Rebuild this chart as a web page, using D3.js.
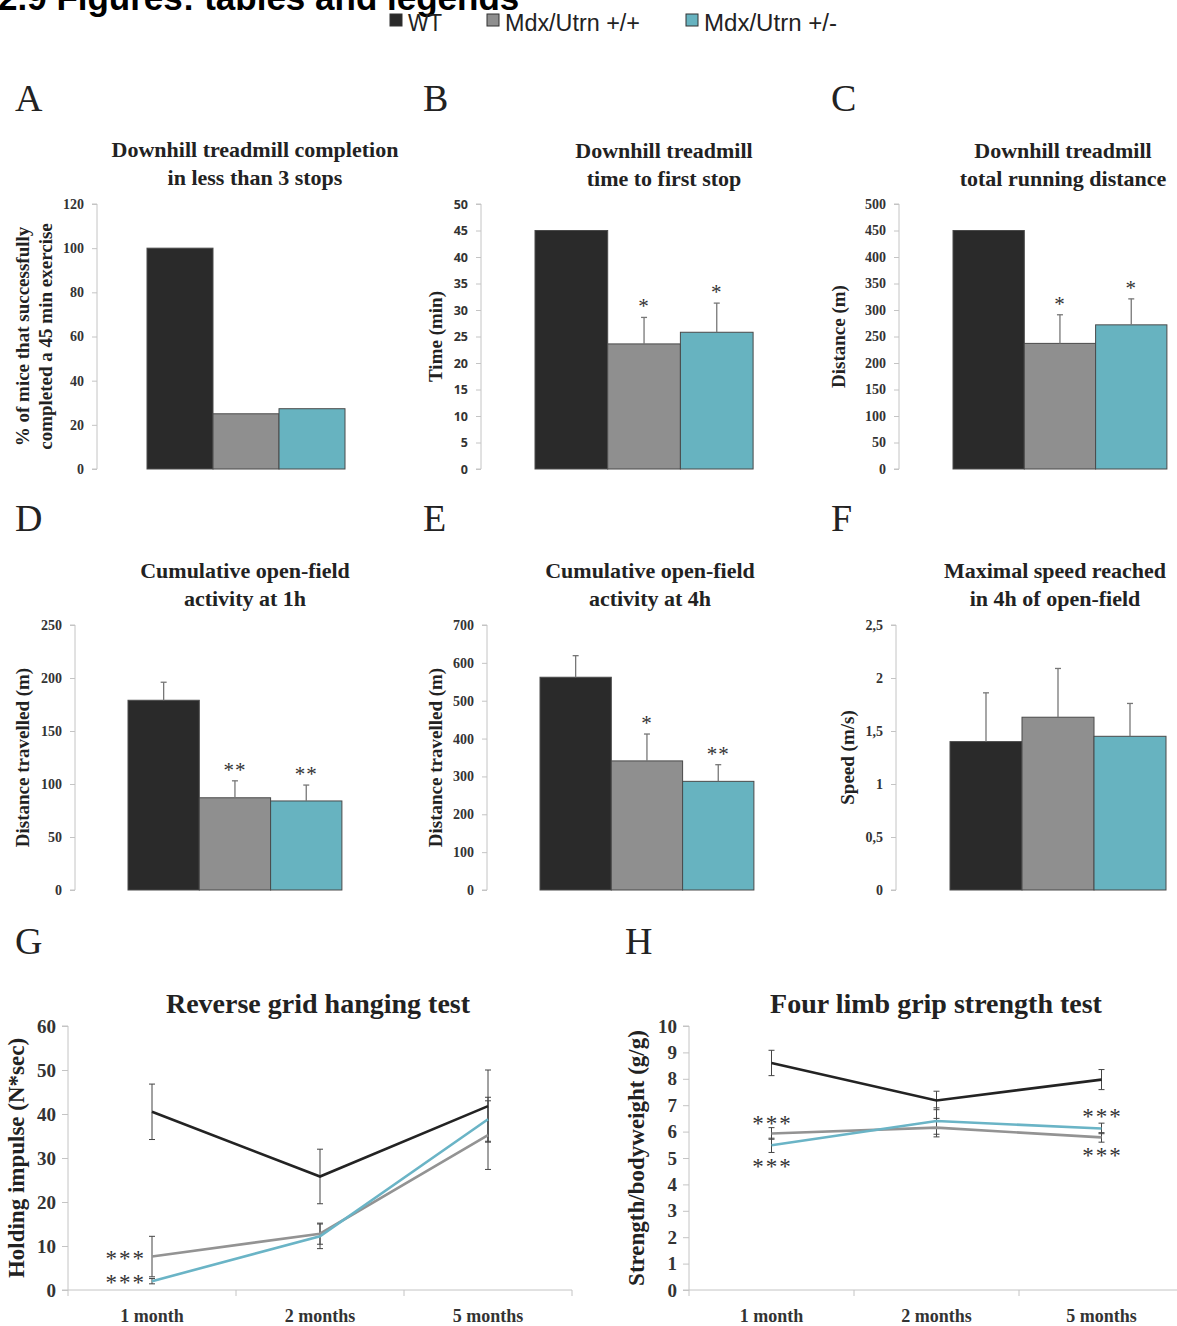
<!DOCTYPE html>
<html><head><meta charset="utf-8">
<script src="https://cdn.jsdelivr.net/npm/d3@7"></script>
<style>
body{margin:0;background:#fff;}
svg{display:block;}
</style></head>
<body>
<script>
// ---------- DATA ----------
const groups = ["WT", "Mdx/Utrn +/+", "Mdx/Utrn +/-"];
const groupColors = ["#2a2a2a", "#8f8f8f", "#67b3c0"];

const completionPct = [100, 25, 27.3];
const completionErr = [0, 0, 0];
const completionSig = ["", "", ""];

const timeToStop = [45, 23.6, 25.8];
const timeToStopErr = [0, 5.0, 5.5];
const timeToStopSig = ["", "*", "*"];

const runDistance = [450, 237, 272];
const runDistanceErr = [0, 54, 49];
const runDistanceSig = ["", "*", "*"];

const activity1h = [179, 87, 84];
const activity1hErr = [17, 16, 15];
const activity1hSig = ["", "**", "**"];

const activity4h = [562, 341, 287];
const activity4hErr = [57, 71, 44];
const activity4hSig = ["", "*", "**"];

const maxSpeed = [1.40, 1.63, 1.45];
const maxSpeedErr = [0.46, 0.46, 0.31];
const maxSpeedSig = ["", "", ""];

const months = ["1 month", "2 months", "5 months"];
const gridWT = [40.5, 25.8, 41.8];
const gridWTErr = [6.3, 6.2, 8.2];
const gridPP = [7.6, 12.8, 35.2];
const gridPPErr = [4.6, 2.4, 7.8];
const gridPM = [2.0, 12.2, 38.8];
const gridPMErr = [0.6, 2.8, 5.0];

const gripWT = [8.6, 7.18, 7.97];
const gripWTErr = [0.48, 0.35, 0.38];
const gripPP = [5.93, 6.15, 5.78];
const gripPPErr = [0.22, 0.35, 0.18];
const gripPM = [5.48, 6.4, 6.12];
const gripPMErr = [0.27, 0.5, 0.2];

// ---------- DRAW ----------
const W = 1177, H = 1326;
const svg = d3.select("body").append("svg").attr("width", W).attr("height", H);
const SERIF = "'Liberation Serif','Times New Roman',serif";
const SANS = "'Liberation Sans',Arial,sans-serif";

// header (cut off at top)
svg.append("text").attr("x", -2).attr("y", 10).attr("font-family", SANS)
  .attr("font-weight", "bold").attr("font-size", 35).attr("fill", "#000")
  .text("2.9 Figures: tables and legends");

// legend
const legendX = [390, 487, 686];
const legendW = [34, 135, 133];
groups.forEach((g, i) => {
  svg.append("rect").attr("x", legendX[i]).attr("y", 14).attr("width", 12).attr("height", 12)
    .attr("fill", groupColors[i]).attr("stroke", "#333").attr("stroke-width", 1);
  svg.append("text").attr("x", legendX[i] + 18).attr("y", 31).attr("font-family", SANS)
    .attr("font-size", 23).attr("fill", "#222")
    .attr("textLength", legendW[i]).attr("lengthAdjust", "spacingAndGlyphs").text(g);
});

// panel letters
[["A",15,111],["B",423,111],["C",831,111],["D",15,531],["E",423,531],["F",831,531],["G",15,954],["H",625,954]]
 .forEach(([t,x,y]) => svg.append("text").attr("x",x).attr("y",y).attr("font-family",SERIF)
   .attr("font-size",38).attr("fill","#222").text(t));

function barPanel(cfg) {
  const g = svg.append("g");
  const y = d3.scaleLinear().domain([0, cfg.max]).range([cfg.bottom, cfg.top]);
  const x = d3.scaleBand().domain(groups).range([cfg.x0, cfg.x0 + 3 * cfg.bw]).padding(0);
  // title
  cfg.title.forEach((t, i) => g.append("text").attr("x", cfg.titleX).attr("y", cfg.titleY + i * 28)
    .attr("text-anchor", "middle").attr("font-family", SERIF).attr("font-weight", "bold")
    .attr("font-size", 22).attr("fill", "#222").text(t));
  // y axis
  const ticks = d3.range(0, cfg.max + cfg.step / 2, cfg.step);
  const ax = g.append("g").attr("transform", `translate(${cfg.axisX},0)`)
    .call(d3.axisLeft(y).tickValues(ticks).tickSize(5).tickPadding(8)
      .tickFormat(cfg.fmt || d3.format("d")));
  ax.select(".domain").attr("stroke", "#c4c4c4").attr("d", `M-5,${cfg.bottom}H0V${cfg.top}H-5`);
  ax.selectAll(".tick line").attr("stroke", "#c4c4c4");
  ax.selectAll(".tick text").attr("font-family", cfg.tickFont || SERIF).attr("font-weight", "bold")
    .attr("font-size", cfg.tickSize || 14).attr("fill", "#333");
  // y label
  const lab = g.append("text").attr("transform", `translate(${cfg.labelX},${(cfg.top + cfg.bottom) / 2}) rotate(-90)`)
    .attr("text-anchor", "middle").attr("font-family", SERIF).attr("font-weight", "bold")
    .attr("font-size", 19).attr("fill", "#222");
  cfg.label.forEach((t, i) => lab.append("tspan").attr("x", 0).attr("dy", i === 0 ? 0 : 23).text(t));
  // bars
  g.selectAll("rect.bar").data(cfg.values).join("rect").attr("class", "bar")
    .attr("x", (d, i) => x(groups[i])).attr("width", x.bandwidth())
    .attr("y", d => y(d)).attr("height", d => cfg.bottom - y(d))
    .attr("fill", (d, i) => groupColors[i]).attr("stroke", "#4a4a4a").attr("stroke-width", 1);
  // error bars
  cfg.values.forEach((v, i) => {
    const e = cfg.errs[i];
    if (!e) return;
    const cx = x(groups[i]) + x.bandwidth() / 2;
    g.append("line").attr("x1", cx).attr("x2", cx).attr("y1", y(v)).attr("y2", y(v + e))
      .attr("stroke", "#777").attr("stroke-width", 1.3);
    g.append("line").attr("x1", cx - 3).attr("x2", cx + 3).attr("y1", y(v + e)).attr("y2", y(v + e))
      .attr("stroke", "#777").attr("stroke-width", 1.3);
  });
  // significance
  cfg.sig.forEach((s, i) => {
    if (!s) return;
    const cx = x(groups[i]) + x.bandwidth() / 2;
    g.append("text").attr("x", cx).attr("y", y(cfg.values[i] + cfg.errs[i]) - 4)
      .attr("text-anchor", "middle").attr("font-family", SERIF).attr("font-size", 21)
      .attr("letter-spacing", 1).attr("fill", "#333").text(s);
  });
}

const comma = d => String(d).replace(".", ",");
barPanel({title:["Downhill treadmill completion","in less than 3 stops"], titleX:255, titleY:157,
  values:completionPct, errs:completionErr, sig:completionSig, max:120, step:20,
  axisX:97, top:204, bottom:469, x0:147, bw:66, labelX:29,
  label:["% of mice that successfully","completed a 45 min exercise"]});
barPanel({title:["Downhill treadmill","time to first stop"], titleX:664, titleY:158,
  values:timeToStop, errs:timeToStopErr, sig:timeToStopSig, max:50, step:5,
  axisX:481, top:204, bottom:469, x0:535, bw:72.7, labelX:442, label:["Time (min)"],
  tickFont:"'Open Sans',sans-serif", tickSize:12.5});
barPanel({title:["Downhill treadmill","total running distance"], titleX:1063, titleY:158,
  values:runDistance, errs:runDistanceErr, sig:runDistanceSig, max:500, step:50,
  axisX:899, top:204, bottom:469, x0:953, bw:71.3, labelX:845, label:["Distance (m)"]});
barPanel({title:["Cumulative open-field","activity at 1h"], titleX:245, titleY:578,
  values:activity1h, errs:activity1hErr, sig:activity1hSig, max:250, step:50,
  axisX:75, top:625, bottom:890, x0:128, bw:71.3, labelX:29, label:["Distance travelled (m)"]});
barPanel({title:["Cumulative open-field","activity at 4h"], titleX:650, titleY:578,
  values:activity4h, errs:activity4hErr, sig:activity4hSig, max:700, step:100,
  axisX:487, top:625, bottom:890, x0:540, bw:71.3, labelX:442, label:["Distance travelled (m)"]});
barPanel({title:["Maximal speed reached","in 4h of open-field"], titleX:1055, titleY:578,
  values:maxSpeed, errs:maxSpeedErr, sig:maxSpeedSig, max:2.5, step:0.5,
  axisX:896, top:625, bottom:890, x0:950, bw:72, labelX:854, label:["Speed (m/s)"], fmt:comma});

function linePanel(cfg) {
  const g = svg.append("g");
  const y = d3.scaleLinear().domain([0, cfg.max]).range([cfg.bottom, cfg.top]);
  const x = d3.scaleBand().domain(months).range([cfg.axisX, cfg.axisX + 3 * cfg.bw]).padding(0);
  g.append("text").attr("x", cfg.titleX).attr("y", cfg.titleY).attr("text-anchor", "middle")
    .attr("font-family", SERIF).attr("font-weight", "bold").attr("font-size", 28).attr("fill", "#222")
    .text(cfg.title);
  const ay = g.append("g").attr("transform", `translate(${cfg.axisX},0)`)
    .call(d3.axisLeft(y).tickValues(d3.range(0, cfg.max + cfg.step / 2, cfg.step)).tickSize(6).tickPadding(6));
  ay.select(".domain").attr("stroke", "#c4c4c4").attr("d", `M-6,${cfg.bottom}H0V${cfg.top}H-6`);
  ay.selectAll(".tick line").attr("stroke", "#c4c4c4");
  ay.selectAll(".tick text").attr("font-family", SERIF).attr("font-weight", "bold")
    .attr("font-size", 19).attr("fill", "#333");
  // x axis with ticks at band boundaries
  const ax = g.append("g").attr("transform", `translate(0,${cfg.bottom})`)
    .call(d3.axisBottom(x).tickSize(0).tickPadding(19));
  ax.select(".domain").attr("stroke", "#c4c4c4").attr("d", `M${cfg.axisX},0H${cfg.axisX + 3 * cfg.bw}`);
  ax.selectAll(".tick text").attr("font-family", SERIF).attr("font-weight", "bold")
    .attr("font-size", 18).attr("fill", "#333");
  months.forEach((m, i) => {
    const bx = x(m) + x.bandwidth();
    g.append("line").attr("x1", bx).attr("x2", bx).attr("y1", cfg.bottom).attr("y2", cfg.bottom + 6)
      .attr("stroke", "#c4c4c4");
  });
  g.append("line").attr("x1", cfg.axisX).attr("x2", cfg.axisX).attr("y1", cfg.bottom).attr("y2", cfg.bottom + 6)
    .attr("stroke", "#c4c4c4");
  g.append("text").attr("transform", `translate(${cfg.labelX},${(cfg.top + cfg.bottom) / 2}) rotate(-90)`)
    .attr("text-anchor", "middle").attr("font-family", SERIF).attr("font-weight", "bold")
    .attr("font-size", 23).attr("fill", "#222").text(cfg.label);
  const cx = m => x(m) + x.bandwidth() / 2;
  // error bars
  cfg.series.forEach(s => {
    s.v.forEach((v, i) => {
      const e = s.e[i], X = cx(months[i]);
      g.append("line").attr("x1", X).attr("x2", X).attr("y1", y(v - e)).attr("y2", y(v + e))
        .attr("stroke", "#444").attr("stroke-width", 1);
      [v - e, v + e].forEach(q => g.append("line").attr("x1", X - 3).attr("x2", X + 3)
        .attr("y1", y(q)).attr("y2", y(q)).attr("stroke", "#444").attr("stroke-width", 1));
    });
  });
  // lines
  const line = d3.line().x((d, i) => cx(months[i])).y(d => y(d));
  cfg.series.forEach(s => g.append("path").datum(s.v).attr("d", line).attr("fill", "none")
    .attr("stroke", s.c).attr("stroke-width", 2.6));
  // stars
  cfg.stars.forEach(st => g.append("text").attr("x", st.dx + cx(months[st.i])).attr("y", y(st.v) + st.dy)
    .attr("text-anchor", st.anchor).attr("font-family", SERIF).attr("font-size", 23)
    .attr("letter-spacing", 2).attr("fill", "#333").text("***"));
}

linePanel({title:"Reverse grid hanging test", titleX:318, titleY:1013, max:60, step:10,
  axisX:68, bw:168, top:1026, bottom:1290, labelX:24, label:"Holding impulse (N*sec)",
  series:[{v:gridWT,e:gridWTErr,c:"#232323"},{v:gridPP,e:gridPPErr,c:"#939393"},{v:gridPM,e:gridPMErr,c:"#6ab4c6"}],
  stars:[{i:0,v:gridPP[0],dx:-6,dy:9,anchor:"end"},{i:0,v:gridPM[0],dx:-6,dy:9,anchor:"end"}]});
linePanel({title:"Four limb grip strength test", titleX:936, titleY:1013, max:10, step:1,
  axisX:689, bw:165, top:1026, bottom:1290, labelX:644, label:"Strength/bodyweight (g/g)",
  series:[{v:gripWT,e:gripWTErr,c:"#232323"},{v:gripPP,e:gripPPErr,c:"#939393"},{v:gripPM,e:gripPMErr,c:"#6ab4c6"}],
  stars:[{i:0,v:gripPP[0],dx:1,dy:-2,anchor:"middle"},{i:0,v:gripPM[0],dx:1,dy:29,anchor:"middle"},
         {i:2,v:gripPM[2],dx:1,dy:-4,anchor:"middle"},{i:2,v:gripPP[2],dx:1,dy:26,anchor:"middle"}]});
</script>
</body></html>
